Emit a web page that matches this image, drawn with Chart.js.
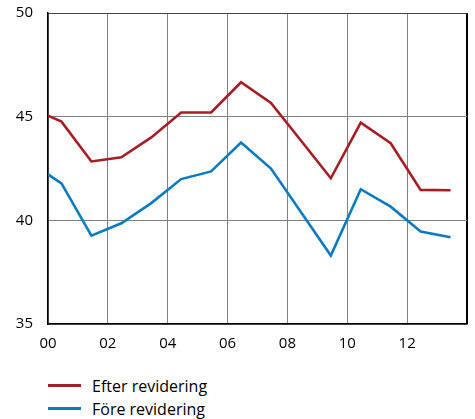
<!DOCTYPE html>
<html>
<head>
<meta charset="utf-8">
<script src="https://cdn.jsdelivr.net/npm/chart.js@4"></script>
<style>
  body { margin: 0; background: #fff; font-family: "Open Sans", sans-serif; }
  #wrap { position: relative; width: 475px; height: 360px; }
  #legend { position: absolute; left: 48px; top: 374px; font-size: 16px; color: #000; }
  .item { display: flex; align-items: center; height: 23px; }
  .swatch { width: 33px; height: 3px; margin-right: 11px; }
</style>
</head>
<body>
<div id="wrap"><canvas id="chart" width="475" height="360"></canvas></div>
<div id="legend"></div>
<script>
// ================= DATA =================
const years = [0, 0.45, 1.45, 2.45, 3.45, 4.45, 5.45, 6.45, 7.45, 8.45, 9.45, 10.45, 11.45, 12.45, 13.45];
const efter = [45.05, 44.76, 42.84, 43.04, 44.0, 45.2, 45.2, 46.66, 45.66, 43.85, 42.03, 44.71, 43.72, 41.47, 41.45];
const fore = [42.22, 41.78, 39.26, 39.86, 40.83, 41.99, 42.36, 43.75, 42.5, 40.4, 38.3, 41.5, 40.66, 39.46, 39.18];
const seriesNames = ["Efter revidering", "Före revidering"];
const seriesColors = ["#a71d24", "#0b7bc2"];
const xTicks = ["00", "02", "04", "06", "08", "10", "12"];

const toPoints = vals => vals.map((v, i) => ({ x: years[i], y: v }));

const font = { family: "'Open Sans', sans-serif", size: 15 };

new Chart(document.getElementById("chart"), {
  type: "line",
  data: {
    datasets: [efter, fore].map((vals, i) => ({
      label: seriesNames[i],
      data: toPoints(vals),
      borderColor: seriesColors[i],
      borderWidth: 2.6,
      pointRadius: 0,
      tension: 0
    }))
  },
  options: {
    responsive: false,
    animation: false,
    layout: { padding: { top: 13, right: 8, left: 0, bottom: 0 } },
    plugins: { legend: { display: false }, tooltip: { enabled: false } },
    scales: {
      x: {
        type: "linear",
        min: 0,
        max: 14,
        afterFit: s => { s.height = 36; s.paddingLeft = 0; s.paddingRight = 0; },
        ticks: {
          stepSize: 2,
          padding: 11,
          color: "#000",
          font: font,
          maxRotation: 0,
          callback: (v) => xTicks[v / 2] || ""
        },
        grid: {
          drawTicks: false,
          color: ctx => ctx.tick && ctx.tick.value === 14 ? "#000" : "#808080",
          lineWidth: ctx => ctx.tick && ctx.tick.value === 14 ? 2 : 1
        },
        border: { color: "#000", width: 1.5 }
      },
      y: {
        min: 35,
        max: 50,
        afterFit: s => { s.width = 48; s.paddingTop = 0; s.paddingBottom = 0; },
        ticks: { stepSize: 5, padding: 15, color: "#000", font: font },
        grid: {
          drawTicks: false,
          color: ctx => ctx.tick && ctx.tick.value === 50 ? "#444" : "#808080",
          lineWidth: 1
        },
        border: { color: "#000", width: 1.5 }
      }
    }
  }
});

// ================= LEGEND =================
const legend = document.getElementById("legend");
seriesNames.forEach((name, i) => {
  const row = document.createElement("div");
  row.className = "item";
  row.innerHTML = '<span class="swatch" style="background:' + seriesColors[i] + '"></span>' + name;
  legend.appendChild(row);
});
</script>
</body>
</html>
